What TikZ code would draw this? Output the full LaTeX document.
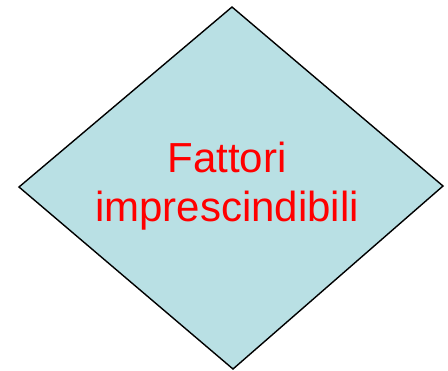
\documentclass[tikz,border=0pt]{standalone}
\usepackage{fontspec}
\setmainfont{Liberation Sans}
\definecolor{dfill}{RGB}{185,224,228}
\definecolor{dtext}{RGB}{255,0,0}
\begin{document}
\begin{tikzpicture}[x=1bp,y=-1bp,
  lbl/.style={text=dtext,font=\fontsize{42bp}{49bp}\selectfont,anchor=base,inner sep=0pt}]
\useasboundingbox (0,0) rectangle (448,370);
\coordinate (t) at (232,7);
\coordinate (l) at (19,187);
\coordinate (b) at (233,369);
\coordinate (r) at (443,186);
\draw[fill=dfill,line width=1.4bp,line join=miter] (t) -- (r) -- (b) -- (l) -- cycle;
\node[lbl] (l1) at (227,172) {Fattori};
\node[lbl] (l2) at (227,221) {imprescindibili};
\end{tikzpicture}
\end{document}
